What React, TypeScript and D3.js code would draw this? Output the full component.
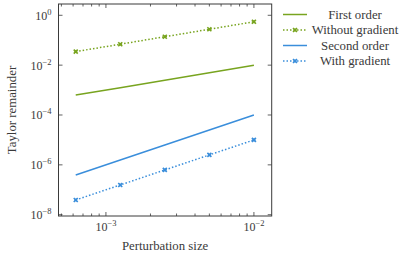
import React from "react";
import * as d3 from "d3";

// perturbation sizes and the four remainder series
const steps = [0.000625, 0.00125, 0.0025, 0.005, 0.01];
const firstOrder = [6.3e-4, 1.25e-3, 2.5e-3, 5e-3, 1e-2];
const withoutGradient = [0.035, 0.069, 0.138, 0.275, 0.55];
const secondOrder = [3.9e-7, 1.56e-6, 6.25e-6, 2.5e-5, 1e-4];
const withGradient = [3.9e-8, 1.56e-7, 6.25e-7, 2.5e-6, 1e-5];

const seriesNames = ["First order", "Without gradient", "Second order", "With gradient"];
const xTickExps = [-3, -2];
const yTickExps = [0, -2, -4, -6, -8];

const GREEN = "#78a41f";
const BLUE = "#3a8edb";
const AXIS = "#3a3a3a";
const FONT = "'Liberation Serif', serif";
const FS = 12.8;

const W = 411, H = 258;
const left = 58.5, right = 271.7, top = 4, bottom = 216;

const Pow = ({ x, y, e, anchor }: { x: number; y: number; e: number; anchor: string }) => (
  <text x={x} y={y} textAnchor={anchor} fontSize={12} fill={AXIS} style={{ fontFamily: FONT }}>
    10
    <tspan dy={-5} fontSize={8.5}>{e < 0 ? `\u2212${-e}` : `${e}`}</tspan>
  </text>
);

const Marker = ({ x, y, color }: { x: number; y: number; color: string }) => (
  <g stroke={color} strokeWidth={1.6}>
    <line x1={x - 2} y1={y - 2} x2={x + 2} y2={y + 2} />
    <line x1={x - 2} y1={y + 2} x2={x + 2} y2={y - 2} />
    <rect x={x - 1.3} y={y - 1.3} width={2.6} height={2.6} fill={color} stroke="none" />
  </g>
);

export default function App() {
  const x = d3.scaleLog().domain([4.78e-4, 0.01319]).range([left, right]);
  const y = d3.scaleLog().domain([10 ** -8.052, 10 ** 0.453]).range([bottom, top]);

  const line = (vals: number[]) =>
    d3.line<number>().x((_, i) => x(steps[i])).y(v => y(v))(vals) || "";

  const series = [
    { vals: firstOrder, color: GREEN, dotted: false },
    { vals: withoutGradient, color: GREEN, dotted: true },
    { vals: secondOrder, color: BLUE, dotted: false },
    { vals: withGradient, color: BLUE, dotted: true },
  ];

  // minor ticks on x
  const minor: number[] = [];
  for (let e = -4; e <= -2; e++) {
    for (let m = 2; m <= 9; m++) {
      const v = m * 10 ** e;
      if (v >= 4.78e-4 && v <= 0.01319) minor.push(v);
    }
  }

  const legendY = [14.5, 30, 45.5, 61];

  return (
    <svg width={W} height={H} style={{ position: "absolute", left: 0, top: 0 }}>
      <rect width={W} height={H} fill="#fff" />
      {series.map((s, i) => (
        <g key={i}>
          <path
            d={line(s.vals)}
            fill="none"
            stroke={s.color}
            strokeWidth={1.5}
            strokeDasharray={s.dotted ? "1.5 2" : undefined}
          />
          {s.dotted && s.vals.map((v, j) => <Marker key={j} x={x(steps[j])} y={y(v)} color={s.color} />)}
        </g>
      ))}

      {/* ticks */}
      <g stroke={AXIS} strokeWidth={0.8}>
        {xTickExps.map(e => (
          <g key={e}>
            <line x1={x(10 ** e)} x2={x(10 ** e)} y1={bottom} y2={bottom - 4} />
            <line x1={x(10 ** e)} x2={x(10 ** e)} y1={top} y2={top + 4} />
          </g>
        ))}
        {minor.map(v => (
          <g key={v}>
            <line x1={x(v)} x2={x(v)} y1={bottom} y2={bottom - 2.5} />
            <line x1={x(v)} x2={x(v)} y1={top} y2={top + 2.5} />
          </g>
        ))}
        {yTickExps.map(e => (
          <g key={e}>
            <line x1={left} x2={left + 4} y1={y(10 ** e)} y2={y(10 ** e)} />
            <line x1={right} x2={right - 4} y1={y(10 ** e)} y2={y(10 ** e)} />
          </g>
        ))}
      </g>
      <rect x={left} y={top} width={right - left} height={bottom - top} fill="none" stroke={AXIS} strokeWidth={1} />

      {xTickExps.map(e => (
        <Pow key={e} x={x(10 ** e)} y={bottom + 15} e={e} anchor="middle" />
      ))}
      {yTickExps.map(e => (
        <Pow key={e} x={left - 7} y={y(10 ** e) + 4.5} e={e} anchor="end" />
      ))}

      <text x={(left + right) / 2} y={250} textAnchor="middle" fontSize={FS} fill={AXIS} style={{ fontFamily: FONT }}>
        Perturbation size
      </text>
      <text
        transform={`translate(16,${(top + bottom) / 2}) rotate(-90)`}
        textAnchor="middle"
        fontSize={FS}
        fill={AXIS}
        style={{ fontFamily: FONT }}
      >
        Taylor remainder
      </text>

      {/* legend */}
      {series.map((s, i) => (
        <g key={i}>
          <line
            x1={283}
            x2={307}
            y1={legendY[i]}
            y2={legendY[i]}
            stroke={s.color}
            strokeWidth={1.5}
            strokeDasharray={s.dotted ? "1.5 2" : undefined}
          />
          {s.dotted && <Marker x={295} y={legendY[i]} color={s.color} />}
          <text x={355} y={legendY[i] + 4} textAnchor="middle" fontSize={FS} fill={AXIS} style={{ fontFamily: FONT }}>
            {seriesNames[i]}
          </text>
        </g>
      ))}
    </svg>
  );
}
